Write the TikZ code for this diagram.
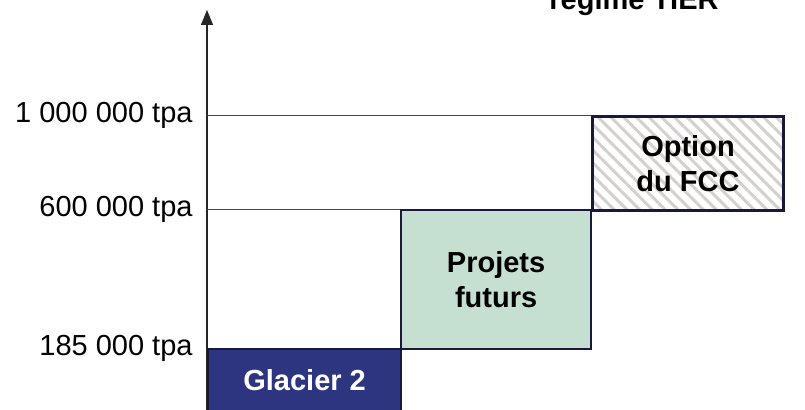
\documentclass[tikz,border=0pt]{standalone}
\usepackage{fontspec}
\setmainfont{Liberation Sans}
\usetikzlibrary{patterns.meta,arrows.meta}
\definecolor{barnavy}{RGB}{46,53,128}
\definecolor{barmint}{RGB}{197,224,209}
\definecolor{hatchgrey}{RGB}{212,208,204}
\definecolor{edgenavy}{RGB}{25,25,60}
\definecolor{levelblue}{RGB}{60,60,140}

\begin{document}
\begin{tikzpicture}[
    x=0.5pt, y=-0.5pt,
    every node/.style={inner sep=0pt, font=\fontsize{14.5}{17}\selectfont},
    bar/.style={draw=edgenavy, line width=1.1pt, anchor=north west, align=center,
        font=\fontsize{14.5}{17.5}\selectfont\bfseries},
    level/.style={draw=levelblue, line width=0.45pt}
]
\useasboundingbox (0,0) rectangle (805,410);
% axis
\coordinate (origin) at (207,412);
\coordinate (top) at (207,10);
\draw[black!85, line width=0.6pt, -{Triangle[width=6pt,length=7.5pt]}] (origin) -- (top);
\node[anchor=base, font=\fontsize{14.5}{17}\selectfont\bfseries] (regime) at (634,10) {régime TIER};
% bars
\node[bar, fill=barnavy, text=white, minimum width=96.5pt, minimum height=31pt] (glacier) at (207,348) {Glacier 2};
\node[bar, fill=barmint, minimum width=95pt, minimum height=69.5pt] (futurs) at (400,209) {Projets\\futurs};
\node[bar, pattern={Lines[angle=-45,distance=4.5pt,line width=1.5pt]}, pattern color=hatchgrey,
    minimum width=95.5pt, minimum height=47pt] (fcc) at (591,115) {Option\\du FCC};
% levels
\coordinate (t1000) at (207,115);
\coordinate (t600) at (207,209);
\coordinate (t185) at (207,348);
\draw[level] (t1000) -- (fcc.north west);
\draw[level] (t600) -- (futurs.north west);
\node[anchor=east] (l1000) at ([xshift=-7pt]t1000) {1 000 000 tpa};
\node[anchor=east] (l600) at ([xshift=-7pt]t600) {600 000 tpa};
\node[anchor=east] (l185) at ([xshift=-7pt]t185) {185 000 tpa};
\end{tikzpicture}
\end{document}
